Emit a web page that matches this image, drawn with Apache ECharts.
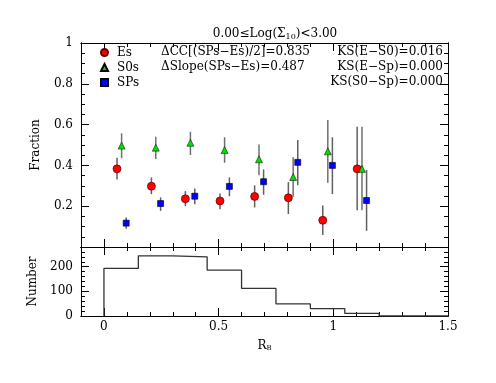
<!DOCTYPE html>
<html><head><meta charset="utf-8">
<script src="https://cdn.jsdelivr.net/npm/echarts@6/dist/echarts.min.js"></script>
<style>html,body{margin:0;padding:0;background:#fff}#c{width:496px;height:383px}</style>
</head><body><div id="c"></div>
<script>
// ---- data ----
const esX  = [0.057, 0.207, 0.355, 0.506, 0.657, 0.804, 0.954, 1.104];
const esY  = [0.383, 0.298, 0.236, 0.226, 0.248, 0.241, 0.131, 0.383];
const esLo = [0.331, 0.259, 0.200, 0.185, 0.194, 0.162, 0.059, 0.180];
const esHi = [0.437, 0.341, 0.274, 0.262, 0.302, 0.318, 0.204, 0.590];

const s0X  = [0.077, 0.226, 0.377, 0.526, 0.676, 0.825, 0.976, 1.125];
const s0Y  = [0.497, 0.487, 0.511, 0.475, 0.430, 0.343, 0.469, 0.383];
const s0Lo = [0.435, 0.431, 0.451, 0.413, 0.352, 0.246, 0.315, 0.180];
const s0Hi = [0.557, 0.541, 0.565, 0.538, 0.503, 0.440, 0.623, 0.590];

const spX  = [0.097, 0.247, 0.396, 0.547, 0.696, 0.845, 0.996, 1.145];
const spY  = [0.117, 0.213, 0.249, 0.297, 0.320, 0.415, 0.400, 0.228];
const spLo = [0.090, 0.177, 0.210, 0.249, 0.256, 0.303, 0.259, 0.079];
const spHi = [0.145, 0.243, 0.287, 0.341, 0.380, 0.525, 0.538, 0.377];

const binEdges = [0, 0.15, 0.30, 0.45, 0.60, 0.75, 0.90, 1.05, 1.20];
const binCounts = [193, 244, 240, 186, 112, 49, 30, 11];

// tick labels / tick positions
const xMajor = [0, 0.5, 1, 1.5];
const xMinor = [-0.1,0,0.1,0.2,0.3,0.4,0.5,0.6,0.7,0.8,0.9,1.0,1.1,1.2,1.3,1.4,1.5];
const fracMajor = [0, 0.2, 0.4, 0.6, 0.8, 1];
const fracLabels = [0.2, 0.4, 0.6, 0.8, 1];
const fracMinor = [0,0.05,0.1,0.15,0.2,0.25,0.3,0.35,0.4,0.45,0.5,0.55,0.6,0.65,0.7,0.75,0.8,0.85,0.9,0.95,1];
const numMajor = [0, 100, 200];
const numMinor = [0,20,40,60,80,100,120,140,160,180,200,220,240,260,280];

const FONT = 'DejaVu Serif';
const zip = (a, b) => a.map((v, i) => [v, b[i]]);
const zip3 = (a, b, c) => a.map((v, i) => [v, b[i], c[i]]);

const histData = [[binEdges[0], 0]];
binCounts.forEach((c, i) => histData.push([binEdges[i], c]));
histData.push([binEdges[binEdges.length - 1], 0]);
histData.push([1.5, 0]);

function errBar(color) {
  return function (params, api) {
    const p1 = api.coord([api.value(0), api.value(1)]);
    const p2 = api.coord([api.value(0), api.value(2)]);
    return { type: 'line', shape: { x1: p1[0], y1: p1[1], x2: p2[0], y2: p2[1] },
             style: { stroke: color, lineWidth: 1.5 } };
  };
}

function xax(grid, pos, vals, len, extra) {
  return Object.assign({
    type: 'value', gridIndex: grid, position: pos, min: -0.1, max: 1.5,
    axisLine: { show: true, onZero: false, lineStyle: { color: '#000', width: 1 } },
    axisTick: { show: true, inside: true, length: len, customValues: vals, lineStyle: { color: '#000' } },
    axisLabel: { show: false }, splitLine: { show: false }
  }, extra || {});
}
function yax(grid, pos, min, max, vals, len, extra) {
  return Object.assign({
    type: 'value', gridIndex: grid, position: pos, min: min, max: max,
    axisLine: { show: true, onZero: false, lineStyle: { color: '#000', width: 1 } },
    axisTick: { show: true, inside: true, length: len, customValues: vals, lineStyle: { color: '#000' } },
    axisLabel: { show: false }, splitLine: { show: false }
  }, extra || {});
}

const chart = echarts.init(document.getElementById('c'), null, { renderer: 'canvas' });
chart.setOption({
  animation: false,
  backgroundColor: '#fff',
  textStyle: { fontFamily: FONT },
  title: {
    text: '{a|0.00≤Log(Σ}{s|10}{a|)<3.00}',
    left: 270, top: 22, textAlign: 'center',
    textStyle: { fontWeight: 'normal', rich: {
      a: { fontFamily: FONT, fontSize: 12, fontWeight: 'normal', color: '#000', lineHeight: 14 },
      s: { fontFamily: FONT, fontSize: 8, fontWeight: 'normal', color: '#000', padding: [5, 0, 0, 0], lineHeight: 14 }
    } }
  },
  legend: {
    orient: 'vertical', left: 100, top: 46.5, padding: 0, itemWidth: 7, itemHeight: 7, itemGap: 3,
    data: ['Es', 'S0s', 'SPs'],
    textStyle: { fontFamily: FONT, fontSize: 12, color: '#000', lineHeight: 12, padding: [0, 0, 0, 4] }
  },
  grid: [
    { left: 81, right: 48, top: 43, height: 204 },
    { left: 81, right: 48, top: 247, height: 69 }
  ],
  xAxis: [
    xax(0, 'bottom', xMajor, 8),
    xax(0, 'bottom', xMinor, 4),
    xax(0, 'top', xMajor, 8),
    xax(0, 'top', xMinor, 4),
    xax(1, 'bottom', xMajor, 8, {
      axisLabel: { show: true, customValues: xMajor, margin: 5, fontFamily: FONT, fontSize: 12, color: '#000',
                   formatter: v => String(v) },
      name: '{a|R}{s|B}', nameLocation: 'middle', nameGap: 24,
      nameTextStyle: { rich: {
        a: { fontFamily: FONT, fontSize: 12, color: '#000' },
        s: { fontFamily: FONT, fontSize: 7, color: '#000', padding: [5, 0, 0, 0] }
      } }
    }),
    xax(1, 'bottom', xMinor, 4),
    xax(1, 'top', xMajor, 8),
    xax(1, 'top', xMinor, 4)
  ],
  yAxis: [
    yax(0, 'left', 0, 1, fracMajor, 8, {
      axisLabel: { show: true, customValues: fracLabels, margin: 8, fontFamily: FONT, fontSize: 12, color: '#000',
                   formatter: v => String(v) },
      name: 'Fraction', nameLocation: 'middle', nameGap: 39, nameRotate: 90,
      nameTextStyle: { fontFamily: FONT, fontSize: 12, color: '#000' }
    }),
    yax(0, 'left', 0, 1, fracMinor, 4),
    yax(0, 'right', 0, 1, fracMajor, 8),
    yax(0, 'right', 0, 1, fracMinor, 4),
    yax(1, 'left', 0, 280, numMajor, 8, {
      axisLabel: { show: true, customValues: numMajor, margin: 8, fontFamily: FONT, fontSize: 12, color: '#000' },
      name: 'Number', nameLocation: 'middle', nameGap: 39, nameRotate: 90,
      nameTextStyle: { fontFamily: FONT, fontSize: 12, color: '#000' }
    }),
    yax(1, 'left', 0, 280, numMinor, 4),
    yax(1, 'right', 0, 280, numMajor, 8),
    yax(1, 'right', 0, 280, numMinor, 4)
  ],
  graphic: [
    { type: 'text', left: 161, top: 46, style: { text: 'ΔCC[(SPs−Es)/2]=0.835', font: '12px "DejaVu Serif"', fill: '#000' } },
    { type: 'text', left: 161, top: 61, style: { text: 'ΔSlope(SPs−Es)=0.487', font: '12px "DejaVu Serif"', fill: '#000' } },
    { type: 'text', right: 53, top: 46, style: { text: 'KS(E−S0)=0.016', font: '12px "DejaVu Serif"', fill: '#000' } },
    { type: 'text', right: 53, top: 61, style: { text: 'KS(E−Sp)=0.000', font: '12px "DejaVu Serif"', fill: '#000' } },
    { type: 'text', right: 53, top: 76, style: { text: 'KS(S0−Sp)=0.000', font: '12px "DejaVu Serif"', fill: '#000' } }
  ],
  series: [
    { type: 'custom', name: 'esErr', xAxisIndex: 0, yAxisIndex: 0, renderItem: errBar('#606060'), data: zip3(esX, esLo, esHi), z: 1 },
    { type: 'custom', name: 's0Err', xAxisIndex: 0, yAxisIndex: 0, renderItem: errBar('#707070'), data: zip3(s0X, s0Lo, s0Hi), z: 1 },
    { type: 'custom', name: 'spErr', xAxisIndex: 0, yAxisIndex: 0, renderItem: errBar('#606060'), data: zip3(spX, spLo, spHi), z: 1 },
    { type: 'scatter', name: 'Es', xAxisIndex: 0, yAxisIndex: 0, data: zip(esX, esY), symbol: 'circle', symbolSize: 8,
      itemStyle: { color: '#ff0000', borderColor: '#5a0000', borderWidth: 0.7, opacity: 1 }, z: 3 },
    { type: 'scatter', name: 'S0s', xAxisIndex: 0, yAxisIndex: 0, data: zip(s0X, s0Y), symbol: 'triangle', symbolSize: 7,
      itemStyle: { color: '#00dd00', borderColor: '#000', borderWidth: 0.5, opacity: 1 }, z: 3 },
    { type: 'scatter', name: 'SPs', xAxisIndex: 0, yAxisIndex: 0, data: zip(spX, spY), symbol: 'rect', symbolSize: 6,
      itemStyle: { color: '#0000ff', borderColor: '#000', borderWidth: 0.6, opacity: 1 }, z: 3 },
    { type: 'line', name: 'hist', xAxisIndex: 4, yAxisIndex: 4, data: histData, step: 'end', symbol: 'none',
      lineStyle: { color: '#333', width: 1.3 }, z: 2 }
  ]
});
</script>
</body></html>
